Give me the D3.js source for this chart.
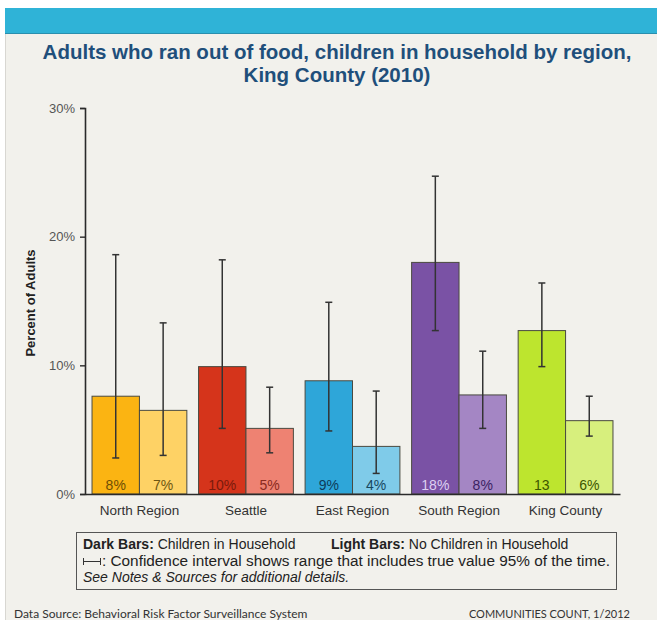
<!DOCTYPE html>
<html>
<head>
<meta charset="utf-8">
<script src="https://cdn.jsdelivr.net/npm/d3@7"></script>
<style>
  html, body { margin: 0; padding: 0; background: #ffffff; }
  svg { display: block; }
</style>
</head>
<body>
<svg id="chart" width="657" height="620"></svg>
<script>
// ---- data ----
const regions = ["North Region", "Seattle", "East Region", "South Region", "King County"];
const darkValues  = [7.6, 9.9, 8.8, 18.0, 12.7];
const lightValues = [6.5, 5.1, 3.7, 7.7, 5.7];
const darkLow   = [2.8, 5.1, 4.9, 12.7, 9.9];
const darkHigh  = [18.6, 18.2, 14.9, 24.7, 16.4];
const lightLow  = [3.0, 3.2, 1.6, 5.1, 4.5];
const lightHigh = [13.3, 8.3, 8.0, 11.1, 7.6];
const darkLabels  = ["8%", "10%", "9%", "18%", "13"];
const lightLabels = ["7%", "5%", "4%", "8%", "6%"];
const yTicks = [0, 10, 20, 30];

// ---- styles ----
const darkColors  = ["#fbb412", "#d5341b", "#2ea6d9", "#7a52a5", "#bde52e"];
const lightColors = ["#fed265", "#ee8272", "#7fcbe9", "#a486c4", "#d7ef7d"];
const darkLabelColors  = ["#6e4e05", "#7a1a0c", "#0d3b5a", "#ddd0f2", "#3c5600"];
const lightLabelColors = ["#6e5612", "#8a2a1e", "#17475f", "#3b2262", "#3c5600"];

const svg = d3.select("#chart");
const font = "Arial, 'Liberation Sans', Helvetica, sans-serif";

// background panel
svg.append("rect").attr("x", 0).attr("y", 0).attr("width", 657).attr("height", 620).attr("fill", "#ffffff");
svg.append("rect").attr("x", 5).attr("y", 8).attr("width", 652).attr("height", 612).attr("fill", "#f2f1ec");
svg.append("line").attr("x1", 5.5).attr("x2", 5.5).attr("y1", 8).attr("y2", 620).attr("stroke", "#d8d7d2").attr("stroke-width", 1);
svg.append("rect").attr("x", 5).attr("y", 8).attr("width", 652).attr("height", 25).attr("fill", "#2fb3d7");
svg.append("line").attr("x1", 5).attr("x2", 657).attr("y1", 33.5).attr("y2", 33.5).attr("stroke", "#2a8fae").attr("stroke-width", 1);

// title
const title = svg.append("text").attr("font-family", font).attr("font-weight", "bold")
  .attr("font-size", 20.5).attr("fill", "#1f4f7b").attr("text-anchor", "middle");
title.append("tspan").attr("x", 337).attr("y", 59).text("Adults who ran out of food, children in household by region,");
title.append("tspan").attr("x", 337).attr("y", 82).text("King County (2010)");

// scales
const y = d3.scaleLinear().domain([0, 30]).range([494, 108]);
const x = d3.scaleBand().domain(regions).range([85, 620]).paddingInner(0.11).paddingOuter(0.066);
const sub = d3.scaleBand().domain(["dark", "light"]).range([0, x.bandwidth()]);

// y axis
const yAxis = d3.axisLeft(y).tickValues(yTicks).tickFormat(d => d + "%").tickSize(5).tickPadding(5);
const yg = svg.append("g").attr("transform", "translate(85,0)").call(yAxis);
yg.select(".domain").attr("stroke", "#2a2a2a").attr("stroke-width", 1.6);
yg.selectAll(".tick line").attr("stroke", "#2a2a2a").attr("stroke-width", 1.4);
yg.selectAll(".tick text").attr("font-family", font).attr("font-size", 13).attr("fill", "#555");

// y title
svg.append("text").attr("transform", "translate(35,303) rotate(-90)")
  .attr("text-anchor", "middle").attr("font-family", font).attr("font-weight", "bold")
  .attr("font-size", 13).attr("fill", "#222").text("Percent of Adults");

// bars
const groups = svg.append("g").selectAll("g").data(regions).join("g")
  .attr("transform", d => `translate(${x(d)},0)`);

const barData = (d, i) => [
  { key: "dark", v: darkValues[i], lo: darkLow[i], hi: darkHigh[i], label: darkLabels[i], fill: darkColors[i], lc: darkLabelColors[i] },
  { key: "light", v: lightValues[i], lo: lightLow[i], hi: lightHigh[i], label: lightLabels[i], fill: lightColors[i], lc: lightLabelColors[i] }
];

groups.selectAll("rect").data(barData).join("rect")
  .attr("x", d => sub(d.key)).attr("width", sub.bandwidth())
  .attr("y", d => y(d.v)).attr("height", d => y(0) - y(d.v))
  .attr("fill", d => d.fill).attr("stroke", "#4a4a40").attr("stroke-width", 1);

// error bars
const eb = groups.selectAll("g.eb").data(barData).join("g").attr("class", "eb")
  .attr("transform", d => `translate(${sub(d.key) + sub.bandwidth() / 2},0)`);
eb.append("line").attr("x1", 0).attr("x2", 0).attr("y1", d => y(d.hi)).attr("y2", d => y(d.lo))
  .attr("stroke", "#333").attr("stroke-width", 1.5);
eb.append("line").attr("x1", -3.5).attr("x2", 3.5).attr("y1", d => y(d.hi)).attr("y2", d => y(d.hi))
  .attr("stroke", "#333").attr("stroke-width", 1.5);
eb.append("line").attr("x1", -3.5).attr("x2", 3.5).attr("y1", d => y(d.lo)).attr("y2", d => y(d.lo))
  .attr("stroke", "#333").attr("stroke-width", 1.5);

// labels inside bars
groups.selectAll("text.lbl").data(barData).join("text").attr("class", "lbl")
  .attr("x", d => sub(d.key) + sub.bandwidth() / 2).attr("y", 490)
  .attr("text-anchor", "middle").attr("font-family", font).attr("font-size", 14)
  .attr("fill", d => d.lc).text(d => d.label);

// x axis
const xAxis = d3.axisBottom(x).tickSize(0).tickPadding(11);
const xg = svg.append("g").attr("transform", "translate(0,494)").call(xAxis);
xg.select(".domain").attr("stroke", "#2a2a2a").attr("stroke-width", 1.6);
xg.selectAll(".tick text").attr("font-family", font).attr("font-size", 13.5).attr("fill", "#333");

// legend box
const lf = 14;
svg.append("rect").attr("x", 76.5).attr("y", 532.5).attr("width", 540).attr("height", 57)
  .attr("fill", "none").attr("stroke", "#555").attr("stroke-width", 1);
const l1 = svg.append("text").attr("x", 83).attr("y", 549).attr("font-family", font).attr("font-size", lf).attr("fill", "#222");
l1.append("tspan").attr("font-weight", "bold").text("Dark Bars:");
l1.append("tspan").text(" Children in Household");
const l1b = svg.append("text").attr("x", 331).attr("y", 549).attr("font-family", font).attr("font-size", lf).attr("fill", "#222");
l1b.append("tspan").attr("font-weight", "bold").text("Light Bars:");
l1b.append("tspan").text(" No Children in Household");
// CI symbol
svg.append("line").attr("x1", 83).attr("x2", 101).attr("y1", 561.5).attr("y2", 561.5).attr("stroke", "#333").attr("stroke-width", 1);
svg.append("line").attr("x1", 83.5).attr("x2", 83.5).attr("y1", 558).attr("y2", 565).attr("stroke", "#333").attr("stroke-width", 1);
svg.append("line").attr("x1", 100.5).attr("x2", 100.5).attr("y1", 558).attr("y2", 565).attr("stroke", "#333").attr("stroke-width", 1);
svg.append("text").attr("x", 102).attr("y", 566).attr("font-family", font).attr("font-size", lf).attr("fill", "#222")
  .attr("textLength", 508).attr("lengthAdjust", "spacingAndGlyphs")
  .text(": Confidence interval shows range that includes true value 95% of the time.");
const l3 = svg.append("text").attr("x", 83).attr("y", 582).attr("font-family", font).attr("font-size", lf).attr("fill", "#222").attr("font-style", "italic");
l3.append("tspan").text("See Notes & Sources for additional details.");

// footer
svg.append("text").attr("x", 14).attr("y", 618).attr("font-family", "Lato, 'Open Sans', sans-serif").attr("font-size", 12).attr("fill", "#333")
  .text("Data Source: Behavioral Risk Factor Surveillance System");
svg.append("text").attr("x", 630).attr("y", 618).attr("text-anchor", "end").attr("font-family", "Lato, 'Open Sans', sans-serif").attr("font-size", 11).attr("fill", "#333")
  .text("COMMUNITIES COUNT, 1/2012");
</script>
</body>
</html>
